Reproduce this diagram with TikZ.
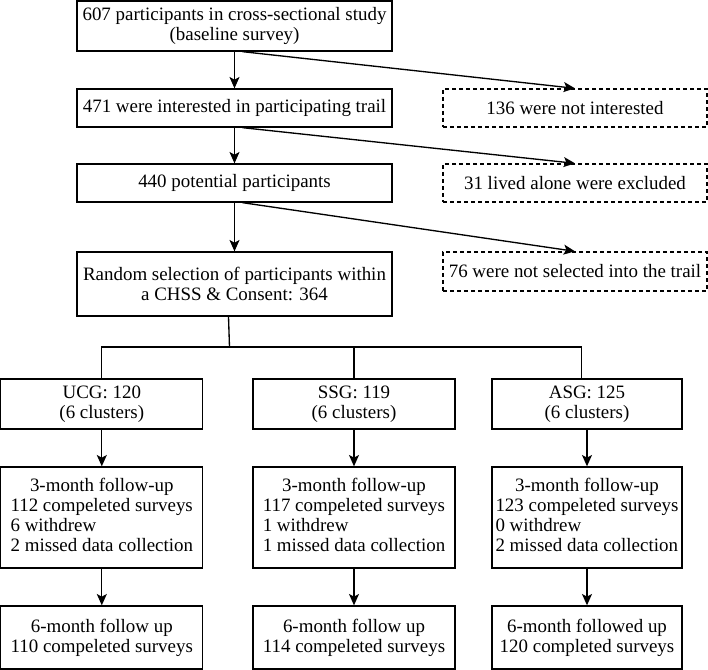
\documentclass[tikz,border=0pt]{standalone}
\usepackage{fontspec}
\setmainfont{Liberation Serif}
\usetikzlibrary{arrows.meta}

\newcommand{\fuhead}[1]{\multicolumn{1}{@{}c@{}}{#1}}

\begin{document}
\begin{tikzpicture}[x=0.75pt, y=-0.75pt, line width=1pt,
  >={Stealth[length=8.5pt, width=7.5pt, inset=2pt]},
  every node/.style={font=\rmfamily\fontsize{14.2}{14.85}\selectfont, inner sep=0pt, align=center},
  flowbox/.style={draw, minimum width=236.25pt},
  exclbox/.style={draw, dash pattern=on 3pt off 2.25pt, minimum width=198pt, minimum height=28.5pt},
  grpbox/.style={draw, minimum width=151.5pt}]

  \useasboundingbox (0,0) rectangle (708,670);

  % Enrolment column
  \node[flowbox, minimum height=37.5pt] (baseline) at (234.5,26)
    {607 participants in cross-sectional study\\(baseline survey)};
  \node[flowbox, minimum height=28.5pt] (interest) at (234.5,108)
    {471 were interested in participating trail};
  \node[flowbox, minimum height=28.5pt] (potential) at (234.5,183)
    {440 potential participants};
  \node[flowbox, minimum height=48pt] (random) at (234.5,284)
    {Random selection of participants within\\a CHSS \& Consent: 364};

  % Excluded (dashed)
  \node[exclbox] (notint) at (575,108) {136 were not interested};
  \node[exclbox] (alone) at (575,183) {31 lived alone were excluded};
  \node[exclbox, minimum height=29.25pt] (notsel) at (575,271.5)
    {76 were not selected into the trail};

  \draw[->] (baseline) -- (interest);
  \draw[->] (interest) -- (potential);
  \draw[->] (potential) -- (random);
  \draw[->] ([xshift=6pt]baseline.south) -- (notint.north);
  \draw[->] ([xshift=6pt]interest.south) -- (alone.north);
  \draw[->] ([xshift=6pt]potential.south) -- (notsel.north);

  % Study groups
  \node[grpbox, minimum height=37.5pt] (grpA) at (101.8,404) {UCG: 120\\(6 clusters)};
  \node[grpbox, minimum height=37.5pt] (grpB) at (354,404) {SSG: 119\\(6 clusters)};
  \node[grpbox, minimum height=37.5pt, minimum width=142.5pt] (grpC) at (587,404)
    {ASG: 125\\(6 clusters)};

  \coordinate (split) at (229.5,347);
  \draw ([xshift=-4.5pt]random.south) -- (split);
  \draw (grpA.north) |- (split) -| ([xshift=-4pt]grpC.north);
  \draw (grpB.north) -- (grpB.north |- split);

  % 3-month follow-up
  \node[grpbox, minimum height=75.75pt] (fuA) at (101.8,517.5)
    {\begin{tabular}{@{}l@{}}\fuhead{3-month follow-up}\\112 compeleted surveys\\6 withdrew\\2 missed data collection\end{tabular}};
  \node[grpbox, minimum height=75.75pt] (fuB) at (354,517.5)
    {\begin{tabular}{@{}l@{}}\fuhead{3-month follow-up}\\117 compeleted surveys\\1 withdrew\\1 missed data collection\end{tabular}};
  \node[grpbox, minimum height=75.75pt, minimum width=142.5pt] (fuC) at (587,517.5)
    {\begin{tabular}{@{}l@{}}\fuhead{3-month follow-up}\\123 compeleted surveys\\0 withdrew\\2 missed data collection\end{tabular}};

  % 6-month follow-up
  \node[grpbox, minimum height=47.25pt] (endA) at (101.8,637.5)
    {6-month follow up\\110 compeleted surveys};
  \node[grpbox, minimum height=47.25pt] (endB) at (354,637.5)
    {6-month follow up\\114 compeleted surveys};
  \node[grpbox, minimum height=47.25pt, minimum width=142.5pt] (endC) at (587,637.5)
    {6-month followed up\\120 completed surveys};

  \foreach \g in {A,B,C} {
    \draw[->] (grp\g) -- (fu\g);
    \draw[->] (fu\g) -- (end\g);
  }

\end{tikzpicture}
\end{document}
